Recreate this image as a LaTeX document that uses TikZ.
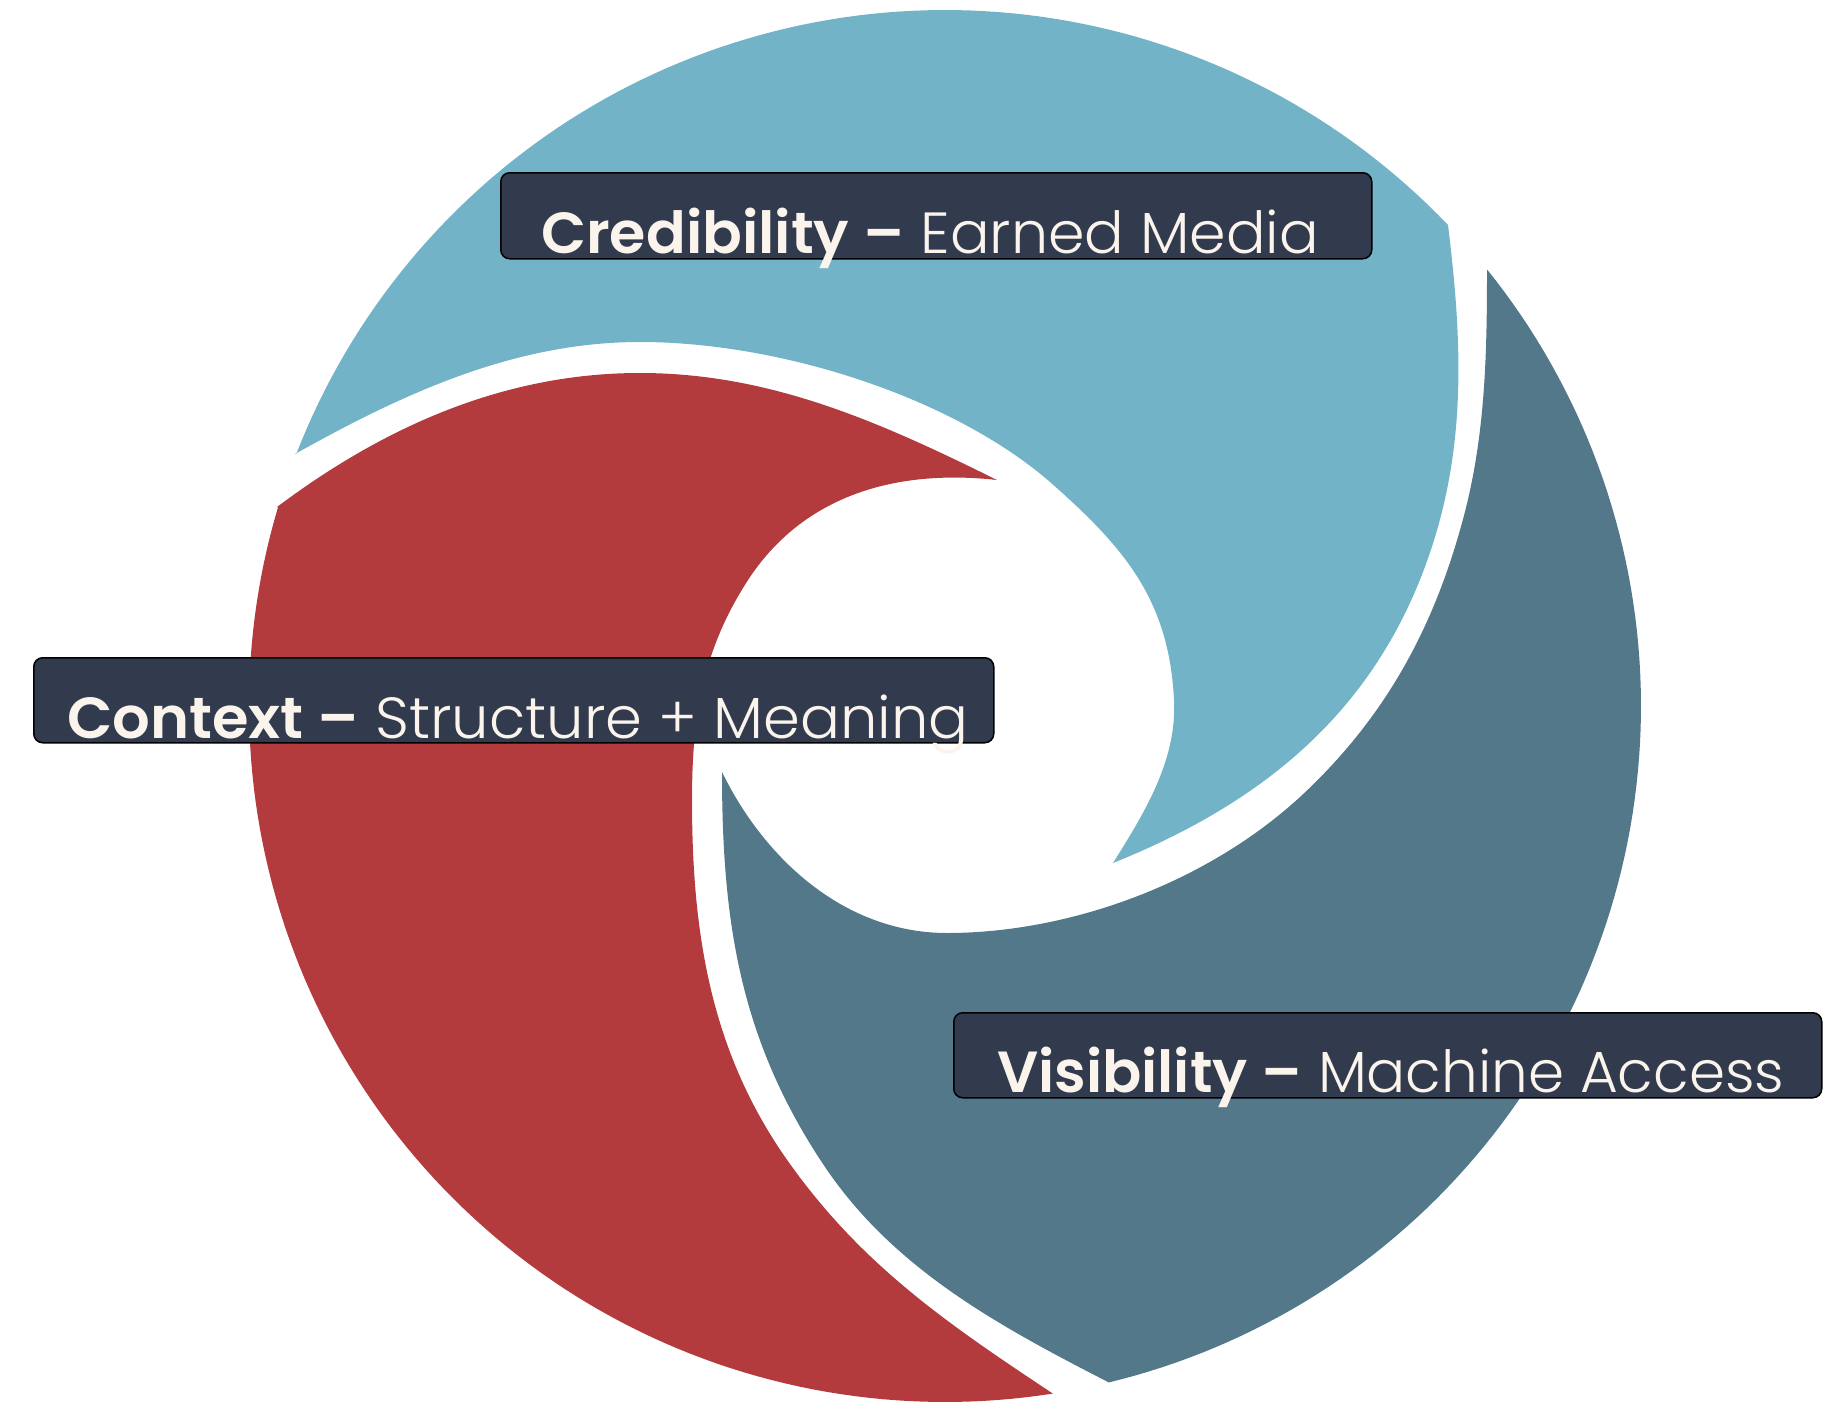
\documentclass[tikz,border=0pt]{standalone}
\usepackage{fontspec}
\setmainfont{Poppins}[UprightFont=* Light, BoldFont=* SemiBold]
\definecolor{lblue}{HTML}{72B3C8}
\definecolor{cred}{HTML}{B33B3D}
\definecolor{dblue}{HTML}{52788A}
\definecolor{boxfill}{HTML}{323B4E}
\definecolor{cream}{HTML}{FBF4EC}
\begin{document}
\begin{tikzpicture}[x=1pt,y=-1pt,
  labelbox/.style={draw=black, line width=1.5pt, fill=boxfill, rounded corners=9pt, inner sep=0pt, anchor=north west},
  labeltext/.style={text=cream, inner sep=0pt, anchor=base west, font=\fontsize{58}{62}\selectfont}]
\useasboundingbox (0,0) rectangle (1844,1405);
% Credibility segment (light blue)
\fill[lblue] plot[domain=-158.8:-43.7,samples=100,variable=\t] ({945+696*cos(\t)},{706+696*sin(\t)})
  -- (1448,225) .. controls (1464,355) and (1467,467) .. (1417,587)
  .. controls (1359,725) and (1252,807) .. (1113,863)
  .. controls (1145,812) and (1177,760) .. (1174,700)
  .. controls (1169,600) and (1125,548) .. (1050,482)
  .. controls (952,397) and (780,342) .. (640,342)
  .. controls (515,342) and (404,393) .. (295,454)
  -- cycle;
% Context segment (red)
\fill[cred] (277,507) .. controls (385,426) and (505,373) .. (640,373)
  .. controls (770,373) and (880,422) .. (997,480)
  .. controls (898,469) and (806,494) .. (750,577)
  .. controls (703,648) and (692,715) .. (692,800)
  .. controls (692,935) and (711,1054) .. (790,1164)
  .. controls (863,1266) and (948,1324) .. (1052,1393)
  -- plot[domain=81.1:196.6,samples=100,variable=\t] ({945+696*cos(\t)},{706+696*sin(\t)})
  -- cycle;
% Visibility segment (dark blue)
\fill[dblue] plot[domain=-38.8:76.4,samples=100,variable=\t] ({945+696*cos(\t)},{706+696*sin(\t)})
  -- (1108,1382) .. controls (997,1325) and (892,1268) .. (823,1164)
  .. controls (740,1039) and (722,922) .. (722,772)
  .. controls (766,862) and (847,933) .. (947,933)
  .. controls (1067,933) and (1204,885) .. (1300,797)
  .. controls (1381,722) and (1430,636) .. (1460,530)
  .. controls (1485,444) and (1487,360) .. (1487,270)
  -- cycle;
% label boxes
\node[labelbox, minimum width=871pt, minimum height=86pt] (b1) at (500,172) {};
\node[labelbox, minimum width=960pt, minimum height=85pt] (b2) at (33,657) {};
\node[labelbox, minimum width=868pt, minimum height=85pt] (b3) at (953,1012) {};
\node[labeltext] (t1) at (541,253) {\scalebox{1.012}[1]{\textbf{Credibility –} Earned Media}};
\node[labeltext] (t2) at (67,738) {\scalebox{1.02}[1]{\textbf{Context –} Structure + Meaning}};
\node[labeltext] (t3) at (997,1092) {\textbf{Visibility –} Machine Access};
\end{tikzpicture}
\end{document}
